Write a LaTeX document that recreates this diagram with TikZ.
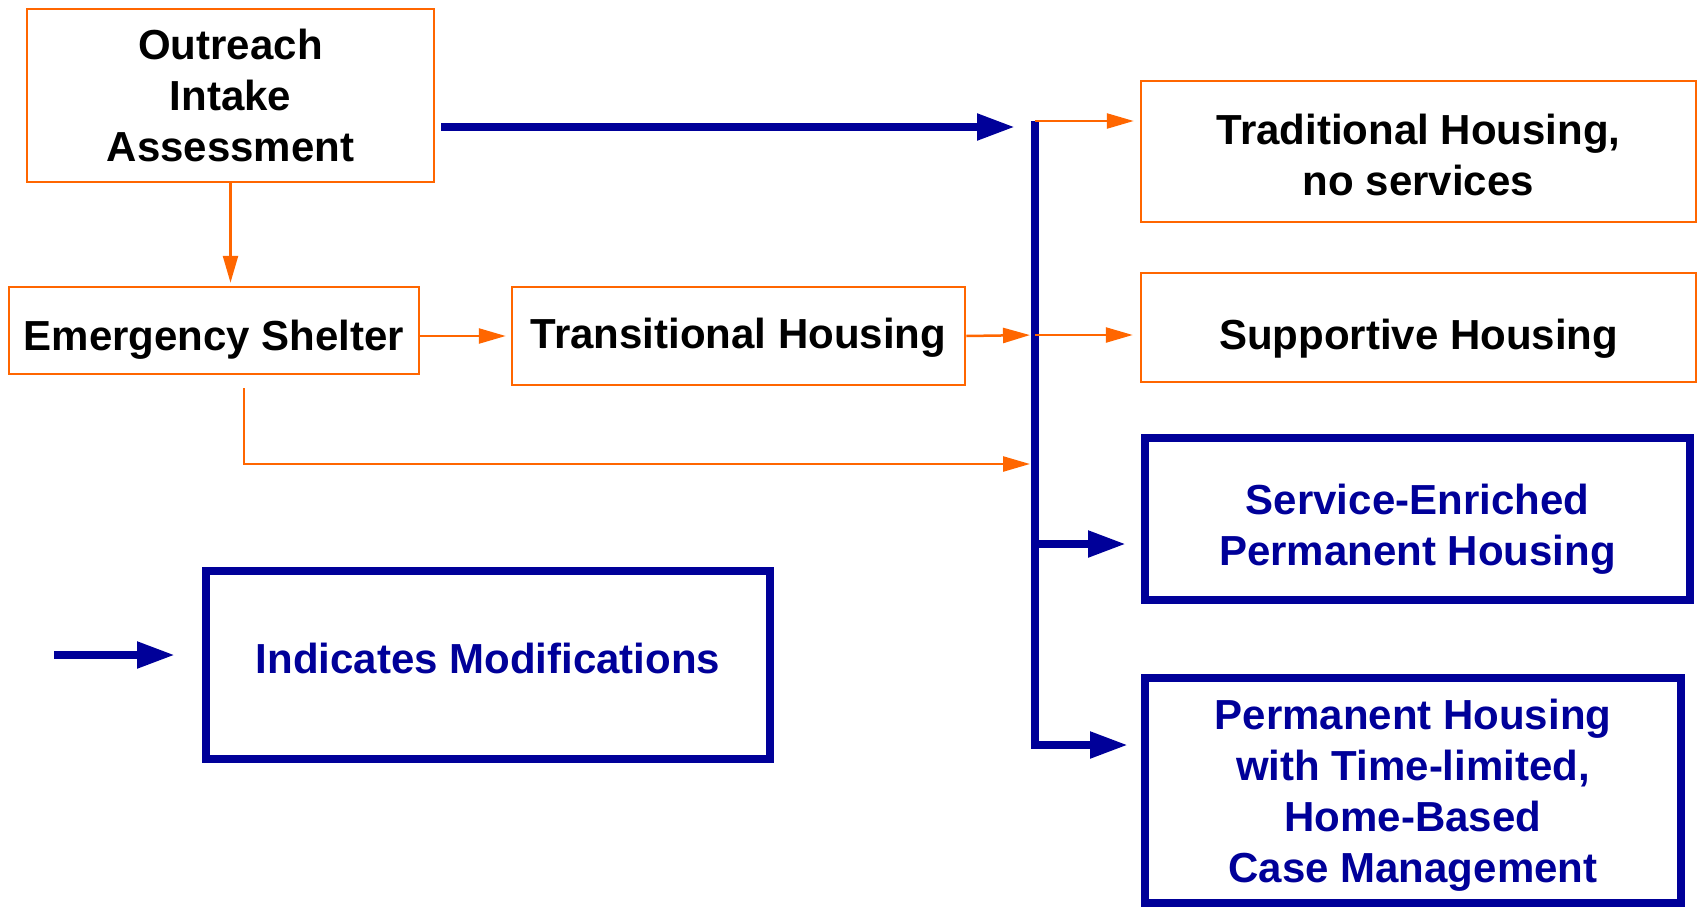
\documentclass[tikz,border=0pt]{standalone}
\usepackage{fontspec}
\setmainfont{Liberation Sans}
\usetikzlibrary{arrows.meta,calc}
\definecolor{org}{HTML}{FF6600}
\definecolor{nblue}{HTML}{000099}
\newcommand{\lowerby}[1]{\rule{0pt}{\dimexpr 30.6pt+2\dimexpr #1\relax\relax}}
\newcommand{\raiseby}[1]{\rule[-\dimexpr 2\dimexpr #1\relax\relax]{0pt}{\dimexpr 2\dimexpr #1\relax\relax}}
\tikzset{
  txt/.style={font=\fontsize{42}{51}\selectfont\bfseries, align=center, inner sep=0pt},
  obox/.style={txt, draw=org, line width=2.5pt, text=black},
  bbox/.style={txt, draw=nblue, line width=8pt, text=nblue},
  oarr/.style={draw=org, line width=2.5pt, -{Triangle[length=27pt,width=15pt]}},
  barr/.style={draw=nblue, line width=8pt, line join=miter, -{Triangle[length=38pt,width=25pt]}}
}
\begin{document}
\begin{tikzpicture}[x=1pt,y=-1pt]
\useasboundingbox (0,0) rectangle (1699,907);
% boxes
\node[obox, minimum width=407pt, minimum height=173pt] (out) at (230.5,95.5) {Outreach\\Intake\\Assessment};
\node[obox, minimum width=410pt, minimum height=87pt] (es) at (214,330.5) {\lowerby{9pt}Emergency Shelter};
\node[obox, minimum width=453pt, minimum height=98pt] (th) at (738.5,336) {\lowerby{2pt}Transitional Housing};
\node[obox, minimum width=555pt, minimum height=141pt] (trad) at (1418.5,151.5) {\lowerby{3pt}Traditional Housing,\\no services};
\node[obox, minimum width=555pt, minimum height=109pt] (sup) at (1418.5,327.5) {\lowerby{11pt}Supportive Housing};
\node[bbox, minimum width=545pt, minimum height=162pt] (ser) at (1417.5,519) {\lowerby{10pt}Service-Enriched\\Permanent Housing};
\node[bbox, minimum width=536pt, minimum height=225pt] (perm) at (1413,790.5) {\lowerby{4.5pt}Permanent Housing\\with Time-limited,\\Home-Based\\Case Management};
\node[bbox, minimum width=564pt, minimum height=188pt] (ind) at (488,665) {Indicates Modifications\raiseby{6.5pt}};
% junction coordinates on the bus
\coordinate (bustop) at (1035,121);
\coordinate (busbot) at (1035,745);
\coordinate (j1) at (1015,127);
\coordinate (j2) at (1035,335);
\coordinate (j3) at (1035,464);
\coordinate (j4) at (1035,544);
\coordinate (l1) at (54,655);
% blue connectors
\draw[barr, shorten <=6pt] (out.east |- j1) -- (j1);
\draw[barr, shorten >=13pt] (bustop) -- (busbot) -- (perm.west |- busbot);
\draw[barr, shorten >=15pt] (j4) -- (ser.west |- j4);
\draw[barr, shorten >=27pt] (l1) -- (ind.west |- l1);
% orange connectors
\draw[oarr, shorten >=3pt] (out.south) -- (out.south |- es.north);
\draw[oarr, shorten >=5pt] (es.east |- th.center) -- (th.west);
\draw[oarr, shorten >=5pt] (th.east) -- (j2);
\draw[oarr, shorten >=5pt] ([xshift=30pt,yshift=-13pt]es.south) |- (j3);
\draw[oarr, shorten >=6pt] (bustop) -- (trad.west |- bustop);
\draw[oarr, shorten >=7pt] (j2) -- (sup.west |- j2);
\end{tikzpicture}
\end{document}
